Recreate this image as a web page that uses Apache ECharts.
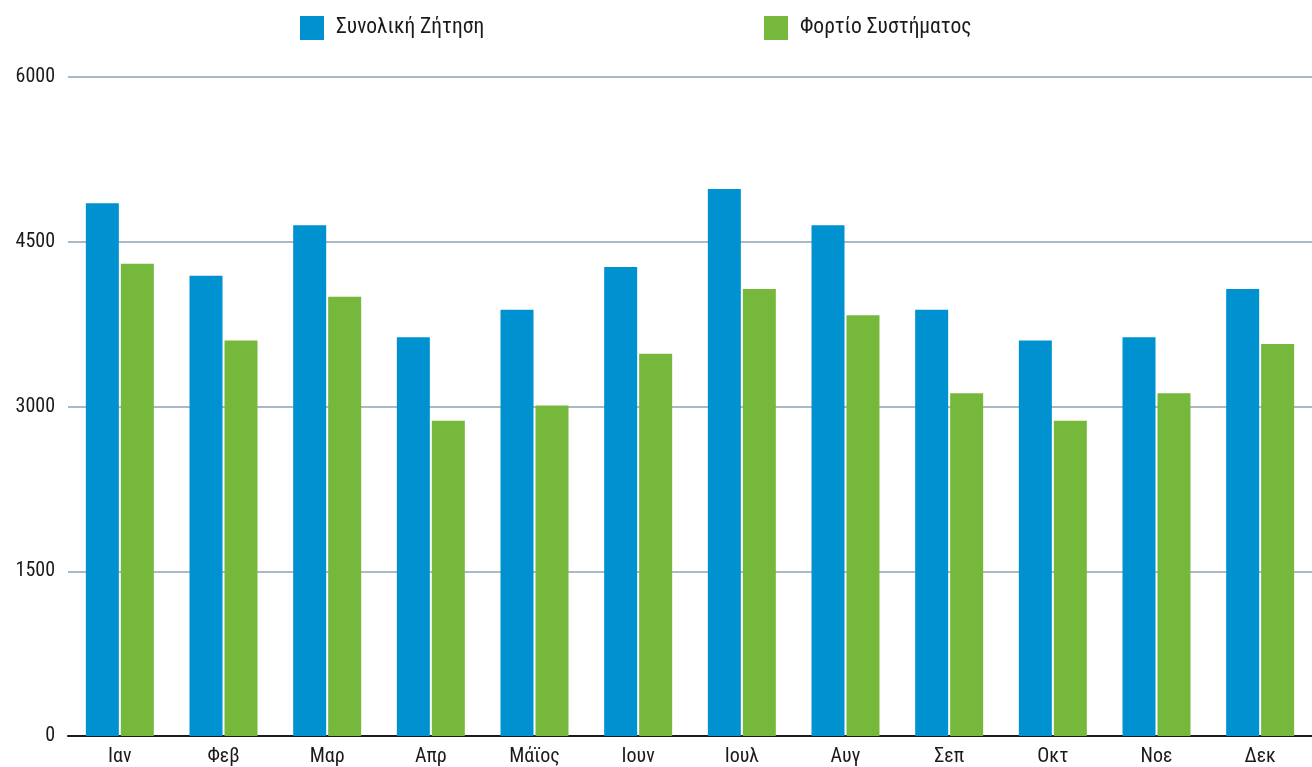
<!DOCTYPE html>
<html>
<head>
<meta charset="utf-8">
<script src="https://cdn.jsdelivr.net/npm/echarts@6/dist/echarts.min.js"></script>
<style>
  html, body { margin: 0; padding: 0; background: #fff; }
  #chart { width: 1312px; height: 767px; }
</style>
</head>
<body>
<div id="chart"></div>
<script>
const months = ['Ιαν', 'Φεβ', 'Μαρ', 'Απρ', 'Μάϊος', 'Ιουν', 'Ιουλ', 'Αυγ', 'Σεπ', 'Οκτ', 'Νοε', 'Δεκ']
const totalDemand = [4850, 4190, 4650, 3630, 3880, 4270, 4980, 4650, 3880, 3600, 3630, 4070]
const systemLoad = [4300, 3600, 4000, 2870, 3010, 3480, 4070, 3830, 3120, 2870, 3120, 3570]
const seriesNames = ['Συνολική Ζήτηση', 'Φορτίο Συστήματος']

const FONT = '"Roboto Condensed", Roboto, sans-serif'
const chart = echarts.init(document.getElementById('chart'))

const legendBase = {
  top: 16,
  padding: 0,
  itemWidth: 24,
  itemHeight: 24,
  itemGap: 12,
  icon: 'rect',
  textStyle: { fontFamily: FONT, fontSize: 21.5, color: '#1a1a1a', padding: [5, 0, 0, 7] }
}

chart.setOption({
  animation: false,
  legend: [
    { ...legendBase, left: 300, data: [seriesNames[0]] },
    { ...legendBase, left: 764, data: [seriesNames[1]] }
  ],
  grid: { left: 68, right: 0, top: 77, bottom: 31, containLabel: false },
  xAxis: {
    type: 'category',
    data: months,
    axisLine: { lineStyle: { color: '#1a1a1a', width: 2 } },
    axisTick: { show: false },
    axisLabel: { fontFamily: FONT, fontSize: 20, color: '#1a1a1a', margin: 11 }
  },
  yAxis: {
    type: 'value',
    min: 0,
    max: 6000,
    interval: 1500,
    axisLine: { show: false },
    axisTick: { show: false },
    splitLine: { lineStyle: { color: '#abb9c4', width: 2 } },
    axisLabel: {
      fontFamily: FONT,
      fontSize: 20,
      color: '#1a1a1a',
      margin: 13,
      padding: [5, 0, 0, 0],
      formatter: v => String(v)
    }
  },
  series: [
    {
      name: seriesNames[0],
      type: 'bar',
      data: totalDemand,
      barWidth: 33,
      barGap: '6%',
      itemStyle: { color: '#0091d1' }
    },
    {
      name: seriesNames[1],
      type: 'bar',
      data: systemLoad,
      barWidth: 33,
      itemStyle: { color: '#76b83b' }
    }
  ]
})
</script>
</body>
</html>
